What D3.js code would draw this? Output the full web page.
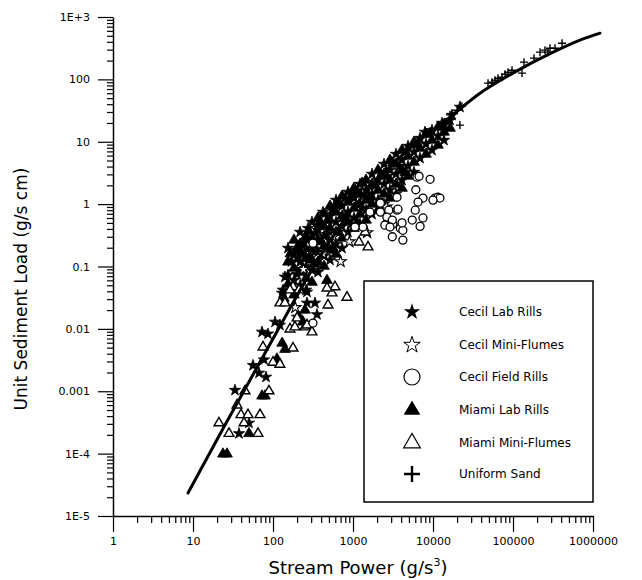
<!DOCTYPE html>
<html><head><meta charset="utf-8">
<script src="https://cdn.jsdelivr.net/npm/d3@7"></script>
<style>body{margin:0;background:#fff}</style>
</head><body>
<svg id="c" width="642" height="580"></svg>
<script>
// ---------- data ----------
const xTicks = [1, 10, 100, 1000, 10000, 100000, 1000000];
const xTickLabels = ["1", "10", "100", "1000", "10000", "100000", "1000000"];
const yTicks = [1e-5, 1e-4, 1e-3, 1e-2, 1e-1, 1, 10, 100, 1000];
const yTickLabels = ["1E-5", "1E-4", "0.001", "0.01", "0.1", "1", "10", "100", "1E+3"];
const seriesNames = ["Cecil Lab Rills", "Cecil Mini-Flumes", "Cecil Field Rills", "Miami Lab Rills", "Miami Mini-Flumes", "Uniform Sand"];

const cecilLabRills = [
  [33.5,0.00104],[37.6,0.00021],[50.1,0.00031],[56.2,0.0026],[66.8,0.00196],[81.8,0.00169],[77.2,0.0032],
  [72.9,0.0089],[86.6,0.0083],[106,0.0129],[122,0.0115],[200,0.0155],[355,0.017],[266,0.026],[335,0.026],
  [130,0.0375],[266,0.039],[141,0.068],[133,0.042],[200,0.183],[230,0.164],[205,0.136],[266,0.265],
  [274,0.41],[335,0.34],[355,0.46],[422,0.745],[7943,14.3],[9173,13.7],[12957,19.9],[13335,18.5],
  [17278,26.7],[21740,36],
  [154,0.197],[154,0.073],[183,0.152],[183,0.060],[218,0.356],[218,0.118],[218,0.050],
  [259,0.197],[259,0.101],[259,0.042],[307,0.515],[307,0.183],[307,0.0875],[365,0.38],[365,0.170],[365,0.081],
  [434,0.69],[434,0.307],[434,0.147],[516,0.643],[516,0.285],[516,0.127],[613,1.16],[613,0.515],[613,0.229],
  [729,0.93],[729,0.44],[729,0.197],[866,1.56],[866,0.745],[866,0.356],[1029,1.25],[1029,0.60],
  [1223,2.09],[1223,1.0],[1223,0.48],[1454,1.68],[1454,0.80],[1728,3.03],[1728,1.45],[1728,0.69],
  [2054,2.42],[2054,1.16],[2441,4.38],[2441,2.09],[2441,1.0],[2900,3.51],[2900,1.68],
  [3449,6.33],[3449,3.03],[3449,1.45],[4097,5.07],[4097,2.42],[4870,8.50],[4870,4.06],
  [5789,6.81],[5789,3.26],[6879,11.4],[6879,5.46],[8175,9.16],[9716,15.3],[9716,7.33],
  [11548,12.3],[13730,19.1],[13730,10.6],[16312,22.2],
  [170,0.12],[200,0.075],[240,0.24],[285,0.15],[330,0.22],[400,0.5],[470,0.33],[560,0.8],
  [660,0.36],[800,1.25],[950,0.48],[1130,1.6],[1340,0.85],[1900,2.0],[2700,2.8],[3800,4.0]
];
const cecilMiniFlumes = [
  [190,0.022],[240,0.09],[420,0.16],[560,0.30],[700,0.12],[900,0.25],[1500,0.35],[2600,0.9]
];
const cecilFieldRills = [
  [6300,2.7],[6700,2.8],[9200,2.5],[6100,1.7],[7500,1.25],[6500,1.08],[10600,1.25],[11500,1.29],
  [12200,1.25],[10000,1.16],[6000,0.80],[5500,0.555],[7500,0.60],[6900,0.44],[4200,0.265],[3550,1.29],
  [2800,0.80],[3550,0.80],[2600,0.48],[3150,0.48],[3900,0.41],[4200,0.38],[3100,0.30],[2200,0.745],
  [1630,0.745],[1330,0.43],[1060,0.43],[316,0.237],[316,0.0124],[3650,0.83],[2650,0.62],[3100,0.555],
  [4100,0.50],[2200,1.04],[2500,0.46],[2900,0.43]
];
const miamiLabRills = [
  [72.9,0.00084],[79.4,0.00084],[23.7,0.0000986],[26.6,0.0000986],[50.1,0.00021],[112,0.0033],
  [130,0.0059],[141,0.0047],[237,0.0129],[211,0.0155],[251,0.020],[137,0.031],[473,0.060],
  [631,0.96],[1059,1.56],[1296,2.17],
  [154,0.118],[154,0.052],[183,0.265],[183,0.094],[183,0.035],[218,0.229],[218,0.081],
  [259,0.307],[259,0.136],[259,0.065],[307,0.285],[307,0.127],[307,0.056],[365,0.60],[365,0.265],[365,0.118],
  [434,0.44],[434,0.212],[434,0.101],[516,0.93],[516,0.41],[516,0.183],[613,0.745],[613,0.356],[613,0.158],
  [729,1.34],[729,0.643],[729,0.285],[866,1.08],[866,0.515],[1029,1.80],[1029,0.863],[1029,0.41],
  [1223,1.45],[1223,0.69],[1454,2.42],[1454,1.16],[1454,0.555],[1728,2.09],[1728,1.0],
  [2054,3.51],[2054,1.68],[2054,0.80],[2441,3.03],[2441,1.45],[2900,5.07],[2900,2.42],[2900,1.25],
  [3449,4.38],[3449,2.09],[4097,7.33],[4097,3.51],[4097,1.80],[4870,5.88],[4870,2.81],
  [5789,9.86],[5789,4.71],[6879,7.89],[8175,13.2],[8175,6.33],[9716,10.6],[11548,17.1],[11548,8.83],
  [13730,14.3],[16312,16.5],
  [165,0.16],[200,0.2],[235,0.09],[280,0.37],[330,0.11],[400,0.25],[480,0.55],[560,0.2],
  [680,1.0],[800,0.6],[950,1.3],[1130,0.5],[1600,1.3],[2250,2.9],[3150,4.6],[4500,3.2],[6300,9.0]
];
const miamiMiniFlumes = [
  [44.7,0.00101],[89,0.00101],[35.5,0.00060],[39.8,0.00042],[48.7,0.00042],[68.8,0.00042],
  [43.4,0.00031],[21.1,0.00031],[28.2,0.00021],[64.9,0.00021],[75,0.0051],[100,0.0029],[122,0.0027],
  [178,0.0049],[163,0.0099],[188,0.0107],[251,0.0107],[266,0.0115],[307,0.0089],[200,0.0149],
  [122,0.026],[141,0.026],[178,0.047],[163,0.042],[211,0.042],[546,0.0375],[596,0.047],[473,0.045],
  [841,0.032],[487,0.024],[1540,0.205],[1189,0.246],[1413,0.356]
];
const uniformSand = [
  [16300,27],[20000,32],[23000,37],[21700,18.5],[48700,87],[54600,90],[59600,97],[64900,104],
  [72900,108],[79400,121],[86600,130],[97200,140],[129500,126],[137300,189],[183000,219],
  [217600,273],[251000,294],[273800,273],[290000,316],[335000,316],[410000,380]
];
const fitCurve = [
  [8.66,2.34e-5],[25.1,2.87e-4],[51.6,1.51e-3],[115,9.57e-3],[290,0.0783],[917,0.745],
  [3868,5.66],[16312,24.8],[38680,60.1],[100000,126],[266000,244],[688000,425],[1223000,550]
];

// ---------- drawing ----------
const FONT = "'DejaVu Sans', sans-serif";
const svg = d3.select("#c");
const x = d3.scaleLog().domain([1, 1e6]).range([113, 593]);
const y = d3.scaleLog().domain([1e-5, 1e3]).range([516, 17]);

const isMajor = (d, arr) => arr.some(t => Math.abs(t - d) / t < 1e-9);

const yMinor = [];
for (let e = -5; e < 3; e++) for (let k = 2; k < 10; k++) yMinor.push(k * Math.pow(10, e));
const xMinor = [];
for (let e = 0; e < 6; e++) for (let k = 2; k < 10; k++) xMinor.push(k * Math.pow(10, e));

const gy = svg.append("g").attr("transform", "translate(113,0)")
  .call(d3.axisLeft(y).tickValues(yTicks.concat(yMinor)).tickSizeOuter(0)
    .tickFormat(d => { const i = yTicks.findIndex(t => Math.abs(t - d) / t < 1e-9); return i >= 0 ? yTickLabels[i] : ""; }));
gy.select(".domain").attr("stroke", "#000").attr("stroke-width", 1.5);
gy.selectAll(".tick line").attr("stroke", "#000").attr("stroke-width", 1.2)
  .attr("x2", d => isMajor(d, yTicks) ? -15 : -6);
gy.selectAll(".tick text").attr("x", -23).attr("font-family", FONT).attr("font-size", 11).attr("fill", "#000");

const gx = svg.append("g").attr("transform", "translate(0,516)")
  .call(d3.axisBottom(x).tickValues(xTicks.concat(xMinor)).tickSizeOuter(0)
    .tickFormat(d => { const i = xTicks.findIndex(t => Math.abs(t - d) / t < 1e-9); return i >= 0 ? xTickLabels[i] : ""; }));
gx.select(".domain").attr("stroke", "#000").attr("stroke-width", 1.5);
gx.selectAll(".tick line").attr("stroke", "#000").attr("stroke-width", 1.2)
  .attr("y2", d => isMajor(d, xTicks) ? 16 : 7);
gx.selectAll(".tick text").attr("y", 21).attr("font-family", FONT).attr("font-size", 11).attr("fill", "#000");

// axis titles
const xt = svg.append("text").attr("x", 358).attr("y", 574).attr("text-anchor", "middle")
  .attr("font-family", FONT).attr("font-size", 18).attr("fill", "#000");
xt.append("tspan").text("Stream Power (g/s");
xt.append("tspan").attr("font-size", 11).attr("dy", -8).text("3");
xt.append("tspan").attr("dy", 8).text(")");

svg.append("text").attr("transform", "translate(27,289) rotate(-90)").attr("text-anchor", "middle")
  .attr("font-family", FONT).attr("font-size", 17).attr("fill", "#000")
  .text("Unit Sediment Load (g/s cm)");

// symbols
const starP = s => d3.symbol().type(d3.symbolStar).size(s)();
const triP = s => d3.symbol().type(d3.symbolTriangle).size(s)();
const plusP = h => `M${-h},0H${h}M0,${-h}V${h}`;

const plot = svg.append("g");
function draw(data, path, fill, stroke, sw) {
  plot.append("g").selectAll("path").data(data).join("path")
    .attr("transform", d => `translate(${x(d[0])},${y(d[1])})`)
    .attr("d", path).attr("fill", fill).attr("stroke", stroke).attr("stroke-width", sw);
}
draw(miamiLabRills, triP(50), "#000", "#000", 0.8);
draw(cecilLabRills, starP(40), "#000", "#000", 0.8);
draw(cecilMiniFlumes, starP(40), "#fff", "#000", 1.1);
draw(miamiMiniFlumes, triP(42), "#fff", "#000", 1.4);
plot.append("g").selectAll("circle").data(cecilFieldRills).join("circle")
  .attr("cx", d => x(d[0])).attr("cy", d => y(d[1])).attr("r", 4)
  .attr("fill", "#fff").attr("stroke", "#000").attr("stroke-width", 1.3);
draw(uniformSand, plusP(4), "none", "#000", 1.4);

// fitted curve
svg.append("path").datum(fitCurve)
  .attr("d", d3.line().x(d => x(d[0])).y(d => y(d[1])).curve(d3.curveMonotoneX))
  .attr("fill", "none").attr("stroke", "#000").attr("stroke-width", 3).attr("stroke-linecap", "round");

// legend
const lg = svg.append("g");
lg.append("rect").attr("x", 364).attr("y", 281).attr("width", 229).attr("height", 221)
  .attr("fill", "#fff").attr("stroke", "#000").attr("stroke-width", 1.5);
const rowY = [312, 345, 377, 410, 443, 474];
const legSym = [
  g => g.append("path").attr("d", starP(85)).attr("fill", "#000"),
  g => g.append("path").attr("d", starP(85)).attr("fill", "#fff").attr("stroke", "#000").attr("stroke-width", 1),
  g => g.append("circle").attr("r", 8).attr("fill", "#fff").attr("stroke", "#000").attr("stroke-width", 1.2),
  g => g.append("path").attr("d", triP(120)).attr("fill", "#000"),
  g => g.append("path").attr("d", triP(120)).attr("fill", "#fff").attr("stroke", "#000").attr("stroke-width", 1.2),
  g => g.append("path").attr("d", plusP(8)).attr("stroke", "#000").attr("stroke-width", 2.4)
];
seriesNames.forEach((name, i) => {
  const g = lg.append("g").attr("transform", `translate(412,${rowY[i]})`);
  legSym[i](g);
  lg.append("text").attr("x", 459).attr("y", rowY[i]).attr("dy", "0.35em")
    .attr("font-family", FONT).attr("font-size", 12).attr("fill", "#000").text(name);
});
</script>
</body></html>
